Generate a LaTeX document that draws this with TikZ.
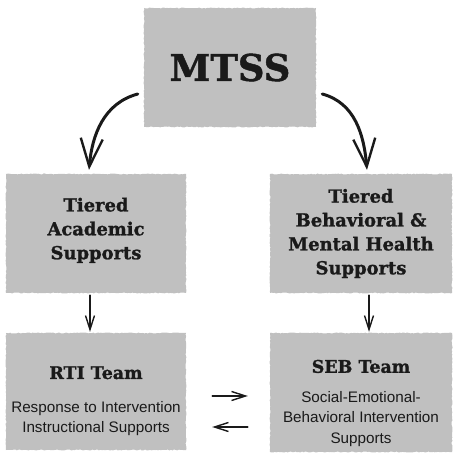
\documentclass[tikz,border=0pt]{standalone}
\usepackage{fontspec}
\setmainfont{Liberation Sans}
\newfontfamily\slabfont{DejaVu Serif}[BoldFeatures={FakeBold=1.3}]
\usetikzlibrary{arrows.meta,positioning,calc,decorations.pathmorphing}
\definecolor{cardgray}{HTML}{C0C0C0}
\definecolor{inkblack}{HTML}{1A1A1A}
\newcommand\teamname{\slabfont\bfseries\fontsize{17.5}{20}\selectfont}
\newcommand\teamtext{\normalfont\fontsize{15.3}{20.5}\selectfont}
\begin{document}
\begin{tikzpicture}[
  x=1bp, y=1bp, >=Straight Barb,
  card/.style={rectangle, fill=cardgray, inner sep=0pt, align=center, text=inkblack,
    decorate, decoration={random steps, segment length=1.6bp, amplitude=0.5bp}},
  head/.style={font=\slabfont\bfseries\fontsize{18}{24}\selectfont},
  team/.style={font=\teamtext},
  bigflow/.style={line width=3bp, inkblack, line cap=round,
    arrows={-Straight Barb[length=28bp, width=22bp, line width=2.4bp]}},
  smallflow/.style={line width=1.4bp, inkblack, line cap=round,
    arrows={-Straight Barb[length=14bp, width=9bp]}},
]
  \pgfmathsetseed{7}
  \useasboundingbox (0,0) rectangle (459,455);
  % boxes
  \node[card, minimum width=172bp, minimum height=119bp,
    font=\slabfont\bfseries\fontsize{37}{40}\selectfont] (MTSS) at (230,387.5) {MTSS};
  \node[card, head, minimum width=180bp, minimum height=119bp] (ACAD) at (96,221.5)
    {Tiered\\Academic\\Supports\rule[-10bp]{0pt}{0pt}};
  \node[card, head, minimum width=182bp, minimum height=119bp] (BEHAV) at (361,221.5)
    {Tiered\\Behavioral \&\\Mental Health\\Supports};
  \node[card, team, minimum width=180bp, minimum height=117bp] (RTI) at (96,63.5)
    {\teamname\rule{0pt}{32bp}RTI Team\\[13bp]Response to Intervention\\Instructional Supports};
  \node[card, team, minimum width=182bp, minimum height=119bp] (SEB) at (361,62.5)
    {\teamname\rule{0pt}{34bp}SEB Team\\[9bp]Social-Emotional-\\Behavioral Intervention\\Supports};
  % arrows
  \draw[bigflow] ([shift={(-6,-26.5)}]MTSS.west) to[out=195, in=85] ([shift={(-7,4)}]ACAD.north);
  \draw[bigflow] ([shift={(6,-26.5)}]MTSS.east) to[out=-15, in=95] ([shift={(6,4)}]BEHAV.north);
  \draw[smallflow] ([shift={(-6,-2)}]ACAD.south) -- ([shift={(-6,1)}]RTI.north);
  \draw[smallflow] ([shift={(8,-2)}]BEHAV.south) -- ([shift={(8,1)}]SEB.north);
  \draw[smallflow] ([shift={(26,-4.5)}]RTI.east) -- ([shift={(-22,-3.5)}]SEB.west);
  \draw[smallflow] ([shift={(-22,-34.5)}]SEB.west) -- ([shift={(26,-35.5)}]RTI.east);
\end{tikzpicture}
\end{document}
